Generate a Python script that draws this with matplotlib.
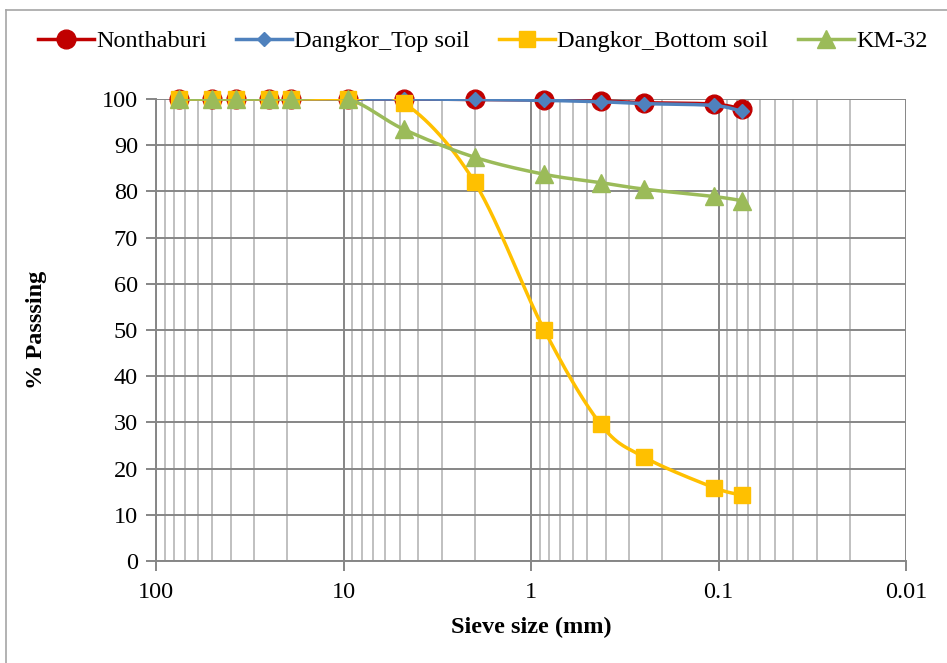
import numpy as np
import matplotlib
matplotlib.use("Agg")
import matplotlib.pyplot as plt
from matplotlib.lines import Line2D
from matplotlib.ticker import LogLocator, NullFormatter, FixedLocator, FixedFormatter

sieve = [75, 50, 37.5, 25, 19, 9.5, 4.75, 2, 0.85, 0.425, 0.25, 0.106, 0.075]
nonthaburi = [100, 100, 100, 100, 100, 100, 100, 99.9, 99.8, 99.6, 99.2, 98.9, 97.8]
dangkor_top = [100, 100, 100, 100, 100, 100, 100, 99.9, 99.7, 99.4, 99.0, 98.6, 97.3]
dangkor_bottom = [100, 100, 100, 100, 100, 100, 99.1, 82.0, 50.0, 29.6, 22.5, 15.9, 14.3]
km32 = [100, 100, 100, 100, 100, 100, 93.4, 87.4, 83.7, 81.9, 80.5, 78.9, 78.0]
x_ticks = [100, 10, 1, 0.1, 0.01]
x_tick_labels = ["100", "10", "1", "0.1", "0.01"]
y_ticks = list(range(0, 101, 10))

plt.rcParams['font.family'] = ['Liberation Serif', 'DejaVu Serif']
FS = 17.5


def smooth(xs, ys, n=30):
    # Excel-style smoothed line (Catmull-Rom / Bezier) in log-x space
    u = np.log10(np.asarray(xs, float))
    v = np.asarray(ys, float)
    P = np.column_stack([u, v])
    out = []
    for i in range(len(P) - 1):
        p0 = P[i - 1] if i > 0 else P[i]
        p1 = P[i]
        p2 = P[i + 1]
        p3 = P[i + 2] if i + 2 < len(P) else P[i + 1]
        c1 = p1 + (p2 - p0) / 6.0
        c2 = p2 - (p3 - p1) / 6.0
        t = np.linspace(0, 1, n)[:, None]
        seg = ((1 - t) ** 3) * p1 + 3 * ((1 - t) ** 2) * t * c1 + 3 * (1 - t) * t ** 2 * c2 + t ** 3 * p2
        out.append(seg if i == 0 else seg[1:])
    S = np.vstack(out)
    return 10 ** S[:, 0], S[:, 1]


fig = plt.figure(figsize=(9.47, 6.63), dpi=100)
ax = fig.add_axes([156 / 947, 1 - 561 / 663, (906 - 156) / 947, (561 - 99) / 663])

series = [
    ("Nonthaburi", nonthaburi, "#C00000", "o", 13.5),
    ("Dangkor_Top soil", dangkor_top, "#4F81BD", "D", 7),
    ("Dangkor_Bottom soil", dangkor_bottom, "#FFC000", "s", 11.5),
    ("KM-32", km32, "#9BBB59", "^", 12.5),
]
handles = []
for k, (name, vals, col, mk, ms) in enumerate(series):
    sx, sy = smooth(sieve, vals)
    ax.plot(sx, sy, color=col, lw=2.5, zorder=3 + k, solid_capstyle='round')
    ax.plot(sieve, vals, linestyle='none', marker=mk, ms=ms, color=col, mec=col, zorder=3 + k, clip_on=False)
    handles.append(Line2D([], [], color=col, lw=2.5, marker=mk, ms=ms, mec=col))

ax.set_xscale('log')
ax.set_xlim(100, 0.01)
ax.set_ylim(0, 100)

ax.xaxis.set_major_locator(FixedLocator(x_ticks))
ax.xaxis.set_major_formatter(FixedFormatter(x_tick_labels))
ax.xaxis.set_minor_locator(LogLocator(base=10, subs=np.arange(2, 10), numticks=20))
ax.xaxis.set_minor_formatter(NullFormatter())
ax.set_yticks(y_ticks)

ax.grid(which='major', axis='both', color='#868686', lw=1.4, zorder=1)
ax.grid(which='minor', axis='x', color='#C0C0C0', lw=1.4, zorder=0.9)
ax.set_axisbelow(True)

for s in ['top', 'right']:
    ax.spines[s].set_visible(False)
for s in ['left', 'bottom']:
    ax.spines[s].set_color('#868686')
    ax.spines[s].set_linewidth(1.4)

ax.tick_params(axis='both', which='major', direction='out', length=7, width=1.4,
               color='#868686', labelsize=FS, pad=6)
ax.tick_params(axis='x', which='minor', length=0)
ax.tick_params(axis='x', which='major', pad=8)

ax.set_xlabel("Sieve size (mm)", fontsize=FS, fontweight='bold', labelpad=10)
ax.set_ylabel("% Passsing", fontsize=FS, fontweight='bold')
ax.yaxis.set_label_coords(-0.145, 0.5)

fig.legend(handles, [s[0] for s in series], loc='center left', bbox_to_anchor=(38 / 947, 1 - 41 / 663),
           ncol=4, frameon=False, fontsize=FS, handlelength=2.3, handletextpad=0.1,
           columnspacing=1.2, borderaxespad=0, borderpad=0)

fig.add_artist(Line2D([6 / 947, 6 / 947], [0, 1 - 10 / 663], transform=fig.transFigure, color='#A6A6A6', lw=1.2))
fig.add_artist(Line2D([6 / 947, 1], [1 - 10 / 663, 1 - 10 / 663], transform=fig.transFigure, color='#A6A6A6', lw=1.2))

fig.savefig("out.png", dpi=100)
